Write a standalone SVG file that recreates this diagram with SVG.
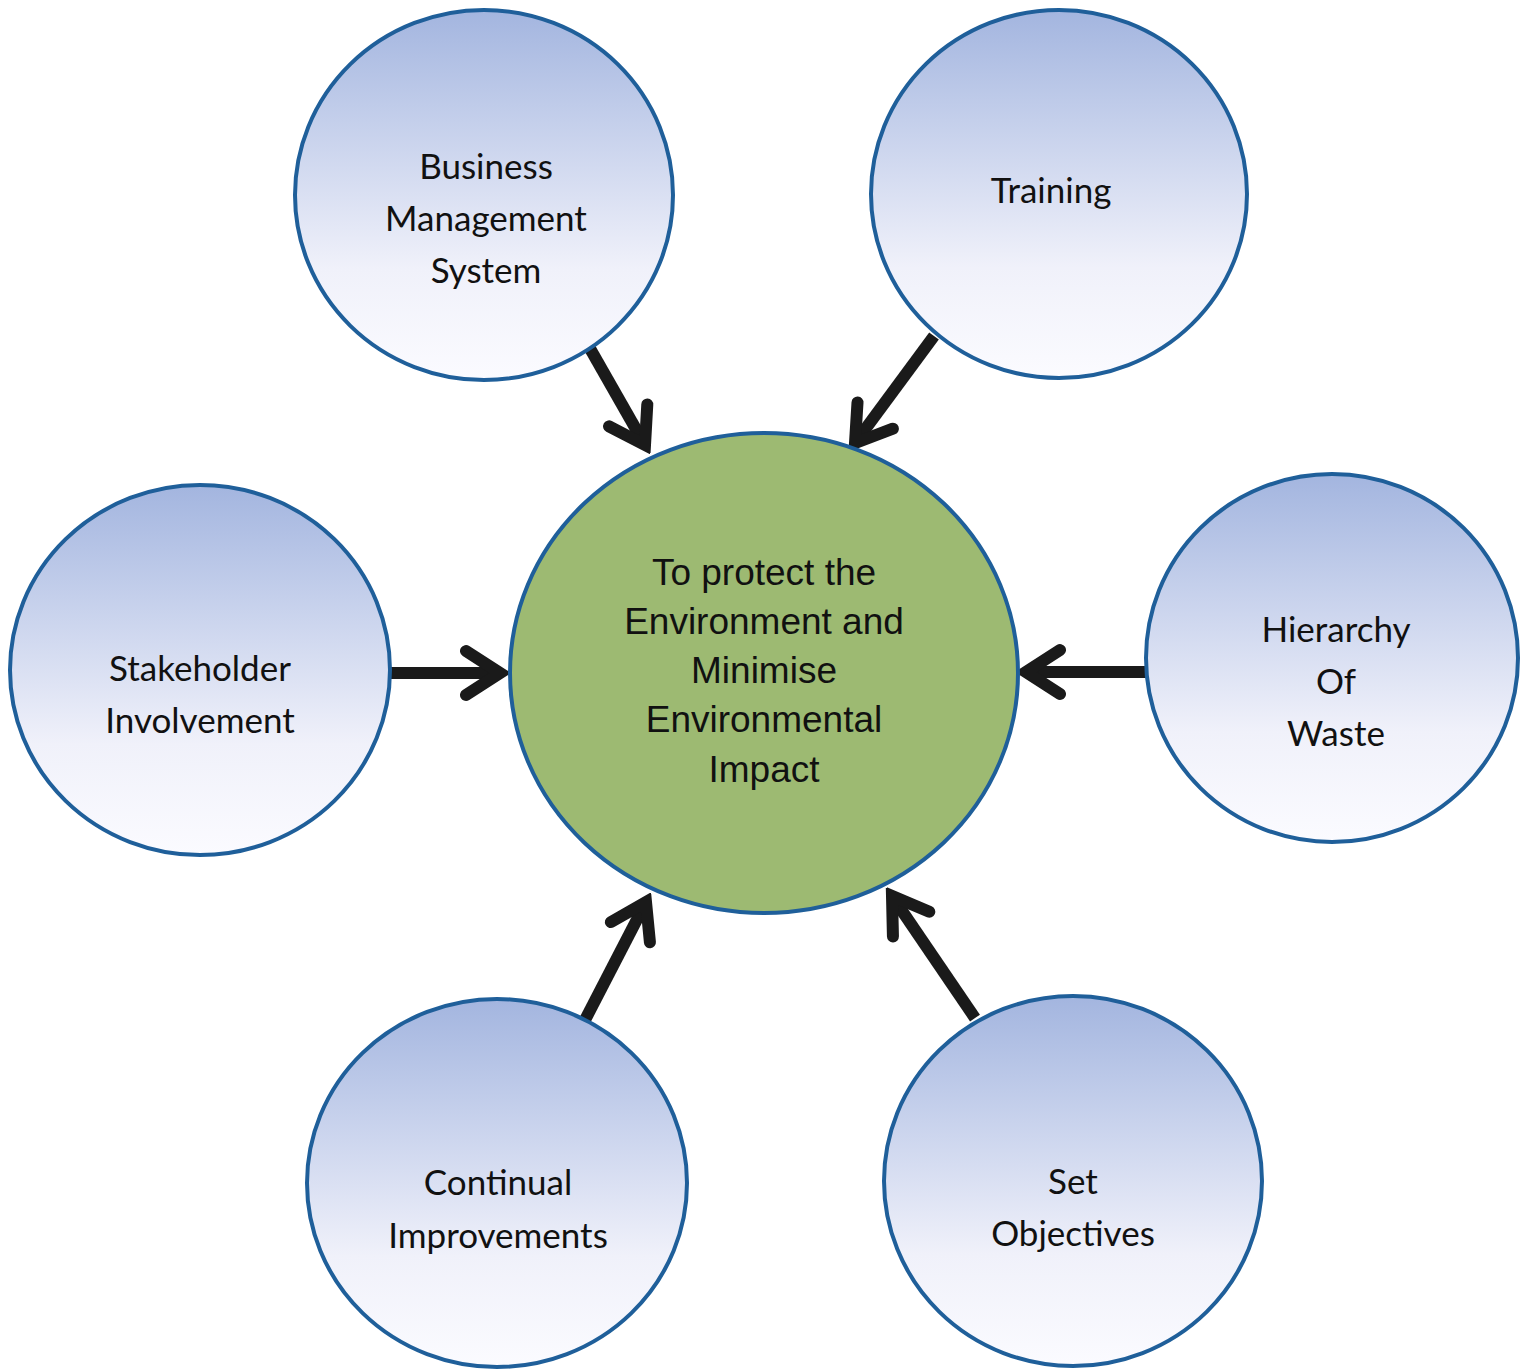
<svg xmlns="http://www.w3.org/2000/svg" width="1528" height="1369" viewBox="0 0 1528 1369">
<defs>
<linearGradient id="blueGrad" x1="0" y1="0" x2="0" y2="1">
<stop offset="0" stop-color="#a3b5df"/>
<stop offset="0.3" stop-color="#c4cfeb"/>
<stop offset="0.7" stop-color="#f0f1fa"/>
<stop offset="1" stop-color="#fbfbff"/>
</linearGradient>
<marker id="chev" markerUnits="userSpaceOnUse" markerWidth="60" markerHeight="60" viewBox="-50 -30 60 60" refX="0" refY="0" orient="auto">
<path d="M-34,-22 L0,0 L-34,22" fill="none" stroke="#1a1a1a" stroke-width="12" stroke-linecap="round" stroke-linejoin="miter"/>
</marker>
</defs>
<style>
.outer{fill:url(#blueGrad);stroke:#1f5f9a;stroke-width:4}
.center{fill:#9dba72;stroke:#1f5f9a;stroke-width:4}
.lbl{font-family:Lato,"Open Sans","Liberation Sans",sans-serif;font-size:35px;fill:#111;text-anchor:middle}
.clbl{font-family:"Liberation Sans",Arial,sans-serif;font-size:37px;fill:#111;text-anchor:middle}
.conn{stroke:#1a1a1a;stroke-width:12;fill:none;marker-end:url(#chev)}
</style>
<rect width="1528" height="1369" fill="#ffffff"/>
<g id="connectors">
<line class="conn" x1="588" y1="345" x2="645" y2="445"/>
<line class="conn" x1="934" y1="336" x2="855" y2="443"/>
<line class="conn" x1="390" y1="673" x2="500" y2="673"/>
<line class="conn" x1="1148" y1="672" x2="1026" y2="672"/>
<line class="conn" x1="585" y1="1020" x2="646" y2="902"/>
<line class="conn" x1="975" y1="1018" x2="892" y2="896"/>
</g>
<g id="center">
<ellipse class="center" cx="764" cy="673" rx="254" ry="240"/>
<text class="clbl" x="764" y="585">To protect the</text>
<text class="clbl" x="764" y="634">Environment and</text>
<text class="clbl" x="764" y="683">Minimise</text>
<text class="clbl" x="764" y="732">Environmental</text>
<text class="clbl" x="764" y="782">Impact</text>
</g>
<g id="bms">
<ellipse class="outer" cx="484" cy="195" rx="189" ry="185"/>
<text class="lbl" x="486" y="179">Business</text>
<text class="lbl" x="486" y="231">Management</text>
<text class="lbl" x="486" y="283">System</text>
</g>
<g id="training">
<ellipse class="outer" cx="1059" cy="194" rx="188" ry="184"/>
<text class="lbl" x="1051" y="203">Training</text>
</g>
<g id="stakeholder">
<ellipse class="outer" cx="200" cy="670" rx="190" ry="185"/>
<text class="lbl" x="200" y="681">Stakeholder</text>
<text class="lbl" x="200" y="733">Involvement</text>
</g>
<g id="hierarchy">
<ellipse class="outer" cx="1332" cy="658" rx="186" ry="184"/>
<text class="lbl" x="1336" y="642">Hierarchy</text>
<text class="lbl" x="1336" y="694">Of</text>
<text class="lbl" x="1336" y="746">Waste</text>
</g>
<g id="continual">
<ellipse class="outer" cx="497" cy="1183" rx="190" ry="184"/>
<text class="lbl" x="498" y="1195">Continual</text>
<text class="lbl" x="498" y="1248">Improvements</text>
</g>
<g id="objectives">
<ellipse class="outer" cx="1073" cy="1181" rx="189" ry="185"/>
<text class="lbl" x="1073" y="1194">Set</text>
<text class="lbl" x="1073" y="1246">Objectives</text>
</g>
</svg>
